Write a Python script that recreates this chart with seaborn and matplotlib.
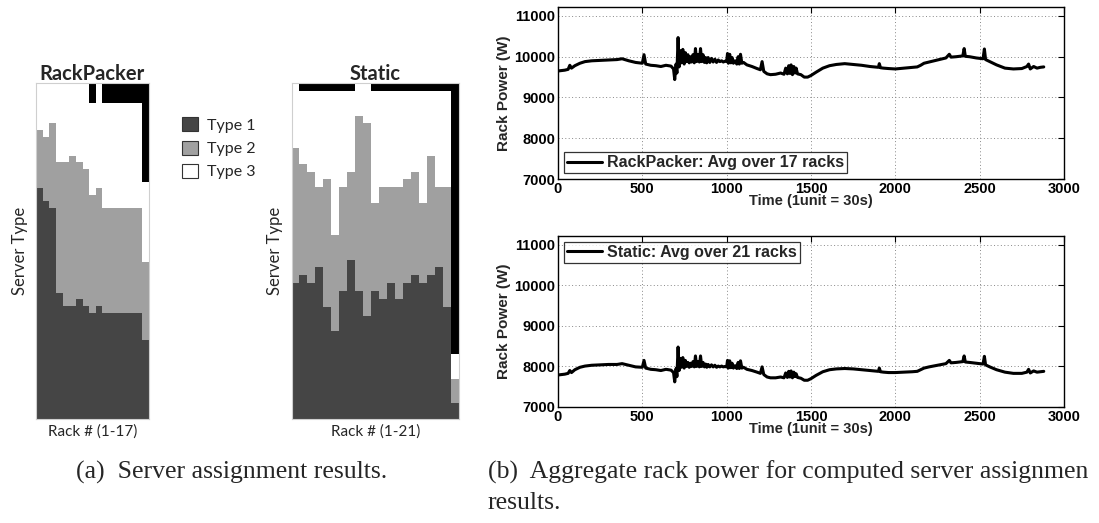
import numpy as np
import pandas as pd
import matplotlib
matplotlib.use("Agg")
import matplotlib.pyplot as plt
import seaborn as sns
from matplotlib.patches import Patch

sns.set_theme(style="white")
plt.rcParams['font.family'] = ['DejaVu Sans']

# ---------------- data: server assignment (rack height = 50 units) ----------------
type_labels = ["Type 1", "Type 2", "Type 3"]

rp_racks = list(range(1, 18))
rp_type1 = [34.4, 32.4, 31.4, 18.8, 16.8, 16.8, 17.8, 16.8, 15.8, 16.8,
            15.8, 15.8, 15.8, 15.8, 15.8, 15.8, 11.8]
rp_type2 = [8.6, 9.6, 12.6, 19.5, 21.5, 22.4, 20.5, 20.4, 17.6, 17.6,
            15.6, 15.6, 15.6, 15.6, 15.6, 15.6, 11.6]
rp_type3 = [7.0, 8.0, 6.0, 11.7, 11.7, 10.8, 11.7, 12.8, 13.6, 15.6,
            15.6, 15.6, 15.6, 15.6, 15.6, 15.6, 11.9]
rp_empty = [0, 0, 0, 0, 0, 0, 0, 0, 3.0, 0,
            3.0, 3.0, 3.0, 3.0, 3.0, 3.0, 14.7]

st_racks = list(range(1, 22))
st_type1 = [20.2, 21.4, 20.2, 22.6, 16.6, 13.1, 19.0, 23.7, 19.0, 15.4,
            19.0, 17.9, 20.2, 17.9, 20.2, 21.4, 20.2, 21.4, 22.6, 16.6, 2.4]
st_type2 = [20.1, 16.5, 16.6, 11.9, 19.1, 14.3, 15.5, 13.1, 26.1, 28.6,
            13.1, 16.6, 14.3, 16.6, 15.5, 15.4, 11.9, 17.8, 11.9, 17.9, 3.6]
st_type3 = [9.7, 10.9, 12.0, 14.3, 13.1, 21.4, 14.3, 12.0, 4.9, 6.0,
            16.7, 14.3, 14.3, 14.3, 13.1, 12.0, 16.7, 9.6, 14.3, 14.3, 3.6]
st_empty = [0, 1.2, 1.2, 1.2, 1.2, 1.2, 1.2, 1.2, 0, 0,
            1.2, 1.2, 1.2, 1.2, 1.2, 1.2, 1.2, 1.2, 1.2, 1.2, 40.4]

# ---------------- data: aggregate rack power ----------------
time_units = [0, 20, 40, 60, 70, 80, 100, 130, 160, 200,
              250, 300, 350, 380, 420, 460, 500, 510, 520, 550,
              580, 610, 640, 670, 685, 692, 700, 705, 712, 718,
              725, 732, 740, 748, 755, 762, 770, 778, 785, 792,
              800, 808, 815, 822, 830, 838, 845, 852, 860, 868,
              875, 882, 890, 900, 910, 920, 930, 940, 950, 960,
              970, 980, 990, 1000, 1005, 1010, 1018, 1025, 1032, 1040,
              1050, 1060, 1068, 1075, 1082, 1090, 1100, 1120, 1150, 1180,
              1200, 1210, 1220, 1240, 1260, 1290, 1320, 1340, 1350, 1360,
              1368, 1375, 1382, 1390, 1398, 1405, 1412, 1420, 1440, 1460,
              1480, 1500, 1530, 1570, 1610, 1650, 1700, 1750, 1800, 1850,
              1900, 1905, 1912, 1930, 1960, 2000, 2050, 2100, 2130, 2150,
              2170, 2200, 2250, 2300, 2320, 2330, 2360, 2400, 2408, 2415,
              2440, 2480, 2520, 2528, 2535, 2560, 2600, 2650, 2700, 2750,
              2780, 2790, 2800, 2820, 2840, 2860, 2880]

rackpacker_power = [9650, 9660, 9670, 9690, 9790, 9720, 9780, 9840, 9880, 9900,
                    9910, 9920, 9930, 9950, 9900, 9860, 9840, 10050, 9820, 9790,
                    9780, 9760, 9790, 9770, 9700, 9440, 9820, 9600, 10470, 9750,
                    10150, 9850, 10180, 9820, 10100, 9880, 10050, 9850, 10000, 9870,
                    10050, 9850, 10200, 9880, 10050, 9870, 10200, 9880, 10050, 9860,
                    9980, 9850, 9980, 9860, 9960, 9870, 9940, 9860, 9920, 9880,
                    9900, 9870, 9890, 9880, 10080, 9840, 10060, 9850, 9980, 9840,
                    9900, 9820, 10000, 9820, 10060, 9840, 9860, 9800, 9760, 9710,
                    9680, 9880, 9640, 9580, 9560, 9570, 9600, 9570, 9720, 9580,
                    9780, 9590, 9800, 9560, 9760, 9600, 9720, 9580, 9560, 9500,
                    9500, 9540, 9620, 9720, 9780, 9810, 9830, 9810, 9790, 9760,
                    9740, 9830, 9730, 9720, 9710, 9700, 9720, 9740, 9750, 9790,
                    9840, 9870, 9920, 9970, 10060, 9990, 10000, 10020, 10200, 10010,
                    10000, 9970, 9950, 10190, 9930, 9880, 9800, 9720, 9700, 9710,
                    9760, 9820, 9700, 9760, 9720, 9740, 9750]

static_power = [7790, 7800, 7810, 7830, 7900, 7850, 7920, 7980, 8010, 8030,
                8040, 8050, 8050, 8070, 8030, 7990, 7980, 8150, 7960, 7930,
                7920, 7900, 7930, 7910, 7850, 7620, 7950, 7750, 8480, 7900,
                8200, 7980, 8220, 7960, 8150, 8000, 8100, 7980, 8080, 8000,
                8120, 7990, 8260, 8000, 8120, 7990, 8260, 8000, 8100, 7990,
                8060, 7980, 8050, 7990, 8040, 7990, 8030, 7980, 8010, 7990,
                8010, 7990, 8000, 7990, 8150, 7960, 8140, 7970, 8080, 7960,
                8020, 7950, 8100, 7950, 8140, 7960, 7980, 7930, 7900, 7860,
                7830, 7990, 7800, 7740, 7720, 7720, 7740, 7720, 7840, 7730,
                7880, 7740, 7890, 7720, 7860, 7750, 7820, 7730, 7710, 7660,
                7660, 7700, 7780, 7870, 7920, 7940, 7950, 7940, 7920, 7900,
                7880, 7960, 7870, 7860, 7850, 7850, 7860, 7870, 7880, 7920,
                7960, 7990, 8030, 8070, 8150, 8090, 8100, 8120, 8260, 8110,
                8100, 8080, 8060, 8250, 8040, 7990, 7920, 7860, 7830, 7830,
                7860, 7930, 7840, 7890, 7860, 7870, 7880]

# ---------------- styling ----------------
C_T1 = "#454545"
C_T2 = "#a0a0a0"
C_T3 = "#ffffff"
C_EMPTY = "#000000"
palette = {"Type 1": C_T1, "Type 2": C_T2, "Type 3": C_T3, "Empty": C_EMPTY}

W, H = 1099, 523
fig = plt.figure(figsize=(W / 100, H / 100), dpi=100)


def ax_px(x0, y0, x1, y1):
    return fig.add_axes([x0 / W, 1 - y1 / H, (x1 - x0) / W, (y1 - y0) / H])


HUM = ['Lato', 'DejaVu Sans']


def rack_panel(ax, racks, t1, t2, t3, empty, title, xlabel):
    n = len(racks)
    df = pd.DataFrame({
        "rack": racks * 4,
        "units": t1 + t2 + t3 + empty,
        "kind": ["Type 1"] * n + ["Type 2"] * n + ["Type 3"] * n + ["Empty"] * n,
    })
    sns.histplot(data=df, x="rack", weights="units", hue="kind",
                 hue_order=["Empty", "Type 3", "Type 2", "Type 1"],
                 multiple="stack", discrete=True, shrink=1, palette=palette,
                 alpha=1, linewidth=0, antialiased=False, legend=False, ax=ax)
    ax.set_xlim(0.5, n + 0.5)
    ax.set_ylim(0, 50)
    ax.set_xticks([])
    ax.set_yticks([])
    ax.set_xlabel(xlabel, family=HUM, fontsize=11, labelpad=4)
    ax.set_ylabel("Server Type", family=HUM, fontsize=12, labelpad=6)
    ax.set_title(title, family=HUM, fontweight="bold", fontsize=14.5, pad=2)
    for s in ax.spines.values():
        s.set_color("#cfcfcf")
        s.set_linewidth(0.8)


ax1 = ax_px(36, 83, 149, 419)
rack_panel(ax1, rp_racks, rp_type1, rp_type2, rp_type3, rp_empty,
           "RackPacker", "Rack # (1-17)")
ax2 = ax_px(291.5, 83, 459.3, 419)
rack_panel(ax2, st_racks, st_type1, st_type2, st_type3, st_empty,
           "Static", "Rack # (1-21)")

handles = [Patch(facecolor=C_T1, edgecolor="#333333", linewidth=0.8),
           Patch(facecolor=C_T2, edgecolor="#333333", linewidth=0.8),
           Patch(facecolor=C_T3, edgecolor="#333333", linewidth=0.8)]
fig.legend(handles, type_labels, loc="upper left",
           bbox_to_anchor=(176 / W, 1 - 111 / H), frameon=False,
           prop={"family": HUM, "size": 11.5}, handlelength=1.0,
           handleheight=0.95, handletextpad=0.55, labelspacing=0.5,
           borderaxespad=0)

# ---------------- power plots ----------------
ARIAL = ['Liberation Sans', 'DejaVu Sans']


def power_panel(ax, values, label, loc):
    sns.lineplot(x=time_units, y=values, ax=ax, color="black", linewidth=2.2,
                 label=label)
    ax.set_xlim(0, 3000)
    ax.set_ylim(7000, 11220)
    ax.set_xticks(range(0, 3001, 500))
    ax.set_yticks(range(7000, 11001, 1000))
    ax.grid(True, linestyle=(0, (1, 2.5)), color="#888888", linewidth=0.7)
    ax.tick_params(direction="in", length=4, width=0.8, top=True, right=True,
                   pad=2, labelsize=10.5, colors="black")
    for t in ax.get_xticklabels() + ax.get_yticklabels():
        t.set_family(ARIAL)
        t.set_fontweight("bold")
    ax.set_xlabel("Time (1unit = 30s)", family=ARIAL, fontweight="bold",
                  fontsize=10.5, labelpad=-1)
    ax.set_ylabel("Rack Power (W)", family=ARIAL, fontweight="bold",
                  fontsize=11, labelpad=2)
    for s in ax.spines.values():
        s.set_color("black")
        s.set_linewidth(1.0)
    leg = ax.legend(loc=loc, frameon=True, fancybox=False, borderaxespad=0.35,
                    prop={"family": ARIAL, "weight": "bold", "size": 11.5},
                    handlelength=2.2, handletextpad=0.3, borderpad=0.2)
    leg.get_frame().set_edgecolor("black")
    leg.get_frame().set_linewidth(0.9)


ax3 = ax_px(558, 7, 1064, 179)
power_panel(ax3, rackpacker_power, "RackPacker: Avg over 17 racks", "lower left")
ax4 = ax_px(558, 236, 1064, 407)
power_panel(ax4, static_power, "Static: Avg over 21 racks", "upper left")

# ---------------- captions ----------------
SERIF = ['Liberation Serif', 'DejaVu Serif']
fig.text(76 / W, 1 - 472 / H, "(a)  Server assignment results.", family=SERIF,
         fontsize=18.5, va="center", ha="left")
fig.text(488 / W, 1 - 472 / H,
         "(b)  Aggregate rack power for computed server assignmen",
         family=SERIF, fontsize=18.5, va="center", ha="left")
fig.text(488 / W, 1 - 503 / H, "results.", family=SERIF, fontsize=18.5,
         va="center", ha="left")

fig.savefig("out.png", dpi=100)
